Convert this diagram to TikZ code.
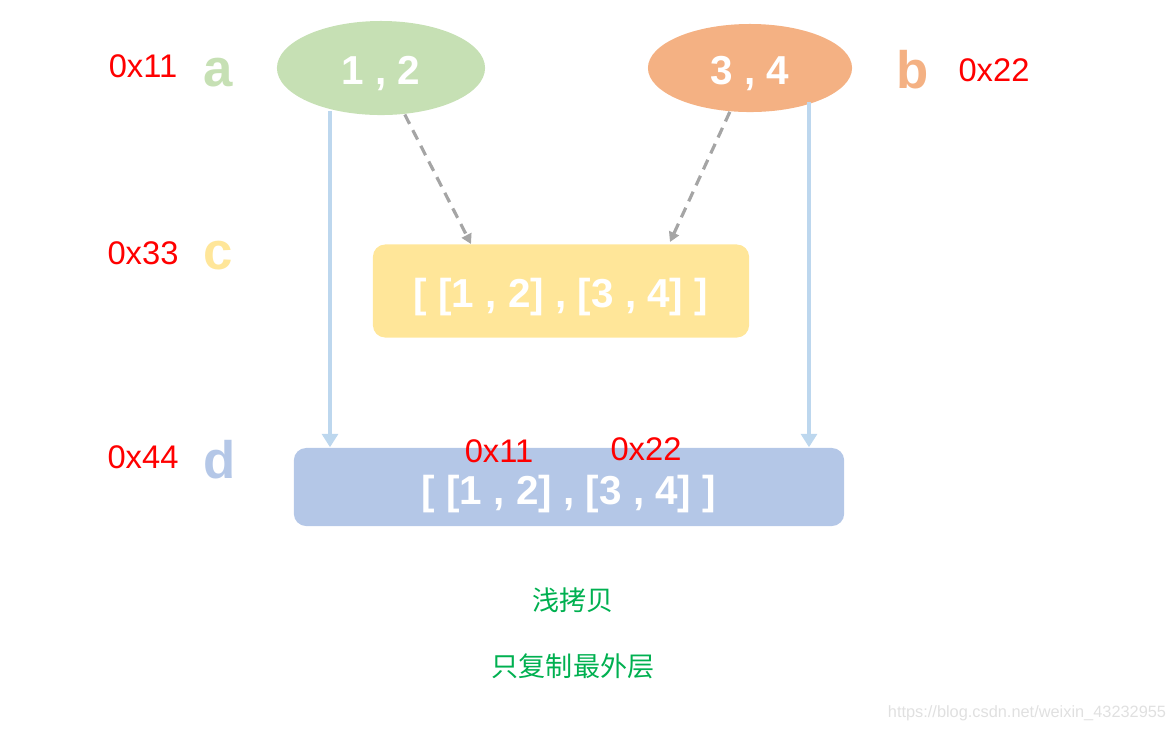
\documentclass[tikz,border=0pt]{standalone}
\usepackage{fontspec}
\setmainfont{Liberation Sans}
\newfontfamily\cjkfont{Noto Sans CJK SC}
\usetikzlibrary{arrows.meta,%
	shapes.geometric}
\definecolor{listgreen}{HTML}{C6E0B4}
\definecolor{listorange}{HTML}{F4B183}
\definecolor{listyellow}{HTML}{FFE699}
\definecolor{listblue}{HTML}{B4C7E7}
\definecolor{refblue}{HTML}{BDD7EE}
\definecolor{refgray}{HTML}{A5A5A5}
\definecolor{addrred}{HTML}{FF0000}
\definecolor{notegreen}{HTML}{00B050}
\tikzset{
	list_node/.style={ellipse,text=white,font=\fontsize{11.5}{13}\selectfont\bfseries,inner sep=0pt,text height=10.5pt,text depth=1pt},
	box_node/.style={rounded corners=3.5pt,text=white,font=\fontsize{11.5}{13}\selectfont\bfseries,inner sep=0pt,text height=10.5pt,text depth=1.2pt},
	addr_label/.style={text=addrred,font=\fontsize{9.3}{11}\selectfont,inner sep=0pt},
	var_label/.style={font=\fontsize{15}{17}\selectfont\bfseries,inner sep=0pt},
	note_label/.style={text=notegreen,font=\cjkfont\fontsize{7.7}{9}\selectfont,inner sep=0pt},
	copy_arrow/.style={draw=refblue,line width=1.15pt,-{Triangle[width=4.5pt,length=3.8pt,fill=refblue]}},
	ref_arrow/.style={draw=refgray,line width=0.9pt,dash pattern=on 3pt off 2pt,-{Triangle[width=3pt,length=2.8pt,fill=refgray]}}
}
\begin{document}
\begin{tikzpicture}[x=0.01cm,y=-0.01cm]
		\useasboundingbox (0,0) rectangle (1172,732);
		
		\node[list_node,fill=listgreen,minimum width=2.08cm,minimum height=0.94cm] (ea) at (381,68) {1 , 2};
		\node[list_node,fill=listorange,minimum width=2.04cm,minimum height=0.88cm] (eb) at (750,68) {3 , 4};
		\node[box_node,fill=listyellow,minimum width=3.76cm,minimum height=0.93cm] (ec) at (561,291) {[ [1 , 2] , [3 , 4] ]};
		\node[box_node,fill=listblue,minimum width=5.5cm,minimum height=0.78cm,text height=11.2pt] (ed) at (569,487) {[ [1 , 2] , [3 , 4] ]};
		
		\node[addr_label] (addr_a) at (143,66) {0x11};
		\node[addr_label] (addr_b) at (994,70) {0x22};
		\node[addr_label] (addr_c) at (143,253) {0x33};
		\node[addr_label] (addr_d) at (143,457) {0x44};
		\node[addr_label] (addr_d1) at (499,451) {0x11};
		\node[addr_label] (addr_d2) at (646,449) {0x22};
		
		\node[var_label,text=listgreen] (name_a) at (218,73) {a};
		\node[var_label,text=listorange] (name_b) at (913,70) {b};
		\node[var_label,text=listyellow] (name_c) at (218,256) {c};
		\node[var_label,text=listblue] (name_d) at (220,460) {d};
		
		\node[note_label] (note1) at (573,600) {浅拷贝};
		\node[note_label] (note2) at (573,666) {只复制最外层};
		\node[text=black!12,font=\fontsize{4.65}{6}\selectfont,inner sep=0pt] (mark) at (1027,713) {https://blog.csdn.net/weixin\_43232955};
		
		\coordinate (a_foot) at (330,111);
		\coordinate (b_foot) at (809,102);
		\coordinate (c_in1) at (471,244);
		\coordinate (c_in2) at (670,242);
		
		\draw[copy_arrow] (a_foot) -- (a_foot |- ed.north);
		\draw[copy_arrow] (b_foot) -- (b_foot |- ed.north);
		\draw[ref_arrow] (ea) -- (c_in1);
		\draw[ref_arrow] (eb) -- (c_in2);
		\end{tikzpicture}
\end{document}
